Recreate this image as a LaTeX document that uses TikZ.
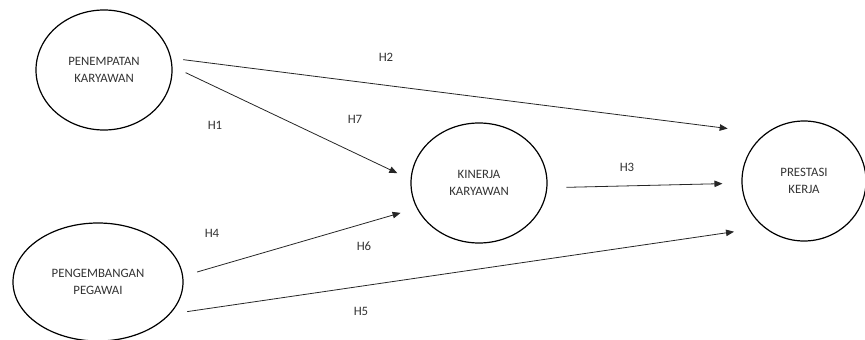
\documentclass[tikz,border=0pt]{standalone}
\usepackage{fontspec}
\setmainfont{Carlito}
\usetikzlibrary{shapes.geometric, arrows.meta}

\tikzset{
  var/.style={ellipse, draw=black, line width=1.2pt, inner sep=0pt, align=center,
    text=black!80, font=\fontsize{12.8}{17}\selectfont},
  hyp/.style={text=black!80, font=\fontsize{12.8}{14}\selectfont},
  arr/.style={draw=black!85, line width=0.8pt, -{Triangle[length=8pt,width=6.5pt]}}
}

\begin{document}
\begin{tikzpicture}[x=1pt,y=-1pt]
  \useasboundingbox (0,0) rectangle (865,340);
  \node[var, minimum width=136pt, minimum height=120pt] (pk) at (104,70) {PENEMPATAN\\KARYAWAN};
  \node[var, minimum width=170pt, minimum height=118pt] (pg) at (98,282) {PENGEMBANGAN\\PEGAWAI};
  \node[var, minimum width=136pt, minimum height=120pt] (kk) at (479,183) {KINERJA\\KARYAWAN};
  \node[var, minimum width=124pt, minimum height=120pt] (pp) at (804,181) {PRESTASI\\KERJA};
  \node[hyp] (h1) at (215,125) {H1};
  \node[hyp] (h2) at (386,57) {H2};
  \node[hyp] (h3) at (627,167) {H3};
  \node[hyp] (h4) at (212,233) {H4};
  \node[hyp] (h5) at (361,311) {H5};
  \node[hyp] (h6) at (364,246) {H6};
  \node[hyp] (h7) at (355,119) {H7};
  \draw[arr, shorten <=12pt, shorten >=38pt] (pk.10) -- (pp.129);
  \draw[arr, shorten <=14.5pt, shorten >=14.6pt] (pk.3) -- (kk.177);
  \draw[arr, shorten <=14.5pt, shorten >=16.7pt] (pg.4) -- (kk.202);
  \draw[arr, shorten <=17.3pt, shorten >=30pt] (pg.336) -- (pp.229);
  \draw[arr, shorten <=19pt, shorten >=19pt] (kk.-4) -- (pp.182);
\end{tikzpicture}
\end{document}
